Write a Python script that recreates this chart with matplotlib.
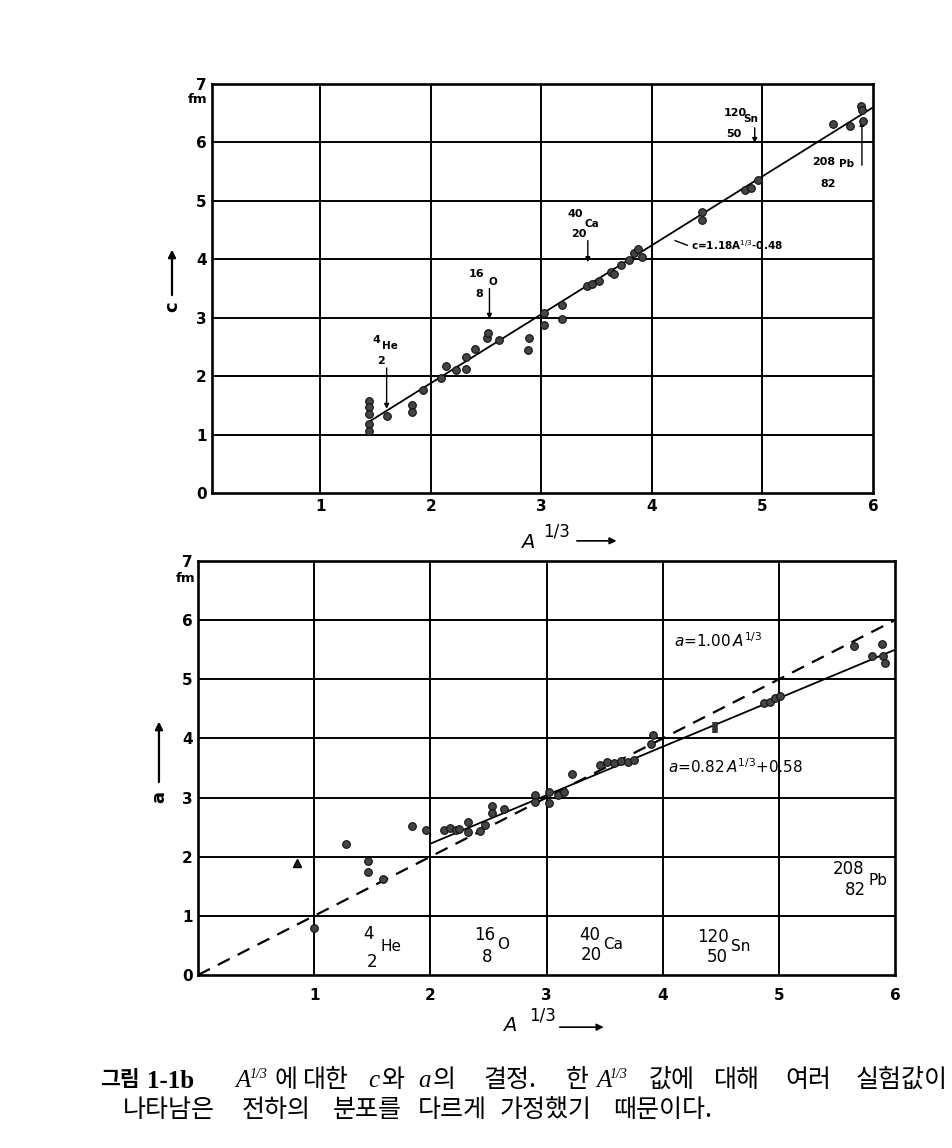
import matplotlib
matplotlib.use('Agg')
import numpy as np
import matplotlib.pyplot as plt

W, H = 952, 1148

# ------------------------------------------------------------------
# DATA (A^1/3 on x, radius in fm on y)
# upper panel: c
c_x = [1.44, 1.44, 1.44, 1.44, 1.44, 1.60, 1.83, 1.83, 1.93, 2.09, 2.14,
       2.23, 2.32, 2.32, 2.40, 2.51, 2.52, 2.62, 2.88, 2.89, 3.02, 3.02,
       3.19, 3.19, 3.41, 3.46, 3.52, 3.63, 3.66, 3.72, 3.79, 3.84, 3.87,
       3.91, 4.45, 4.45, 4.84, 4.90, 4.96, 5.64, 5.79, 5.89, 5.90, 5.91]
c_y = [1.58, 1.48, 1.36, 1.18, 1.06, 1.32, 1.50, 1.38, 1.76, 1.96, 2.17,
       2.11, 2.33, 2.13, 2.47, 2.65, 2.74, 2.62, 2.44, 2.65, 3.08, 2.88,
       3.21, 2.98, 3.55, 3.58, 3.62, 3.78, 3.75, 3.91, 3.98, 4.10, 4.18,
       4.04, 4.81, 4.67, 5.18, 5.22, 5.35, 6.31, 6.28, 6.63, 6.55, 6.37]
c_slope, c_icpt = 1.18, -0.48
c_line_x = [1.43, 6.0]

# lower panel: a
a_x = [1.00, 1.27, 1.46, 1.46, 1.59, 1.84, 1.96, 2.12, 2.17, 2.22, 2.25,
       2.32, 2.32, 2.43, 2.47, 2.53, 2.53, 2.63, 2.90, 2.90, 3.02, 3.02,
       3.10, 3.15, 3.22, 3.46, 3.52, 3.58, 3.64, 3.70, 3.75, 3.90, 3.92,
       4.87, 4.92, 4.97, 5.01, 5.65, 5.80, 5.89, 5.90, 5.91]
a_y = [0.79, 2.22, 1.92, 1.74, 1.62, 2.52, 2.45, 2.45, 2.48, 2.46, 2.47,
       2.58, 2.42, 2.43, 2.53, 2.85, 2.74, 2.80, 3.05, 2.92, 2.90, 3.10,
       3.05, 3.10, 3.40, 3.55, 3.60, 3.58, 3.62, 3.60, 3.63, 3.90, 4.05,
       4.60, 4.62, 4.68, 4.72, 5.56, 5.40, 5.60, 5.40, 5.28]
a_tri_x = [0.85]
a_tri_y = [1.89]
a_bar_x = [4.45]
a_bar_lo = [4.09]
a_bar_hi = [4.27]
a_slope, a_icpt = 0.82, 0.58
a_line_x = [2.0, 6.0]
a_dash_slope = 1.00
a_dash_x = [0.0, 6.0]

x_ticks = [1, 2, 3, 4, 5, 6]
y_ticks = [0, 1, 2, 3, 4, 5, 6, 7]

# nuclei marked in the plots
nuc_mass = ['4', '16', '40', '120', '208']
nuc_z = ['2', '8', '20', '50', '82']
nuc_sym = ['He', 'O', 'Ca', 'Sn', 'Pb']

# ------------------------------------------------------------------
fig = plt.figure(figsize=(W / 100, H / 100), dpi=100)
fig.patch.set_facecolor('white')

GRID_LW = 1.4
TICK_FONT = dict(family='DejaVu Sans', size=11, weight='bold')


def setup(ax, xlim, pad_x):
    ax.set_xlim(*xlim)
    ax.set_ylim(0, 7)
    ax.set_xticks(x_ticks)
    ax.set_yticks(y_ticks)
    ax.set_xticklabels([str(t) for t in x_ticks], fontdict=TICK_FONT)
    ax.set_yticklabels([str(t) for t in y_ticks], fontdict=TICK_FONT)
    ax.tick_params(length=0, pad=4)
    ax.tick_params(axis='x', pad=pad_x)
    for t in x_ticks[:-1]:
        ax.axvline(t, color='k', lw=GRID_LW, zorder=1)
    for t in y_ticks[1:-1]:
        ax.axhline(t, color='k', lw=GRID_LW, zorder=1)
    for s in ax.spines.values():
        s.set_linewidth(1.9)


def axlabels(ax, xA, yA, x13, y13, arr, yc, ylab, ylab_xy, yarr):
    ax.text(xA, yA, 'A', transform=ax.transAxes, fontsize=14, style='italic',
            family='DejaVu Sans', ha='center', va='center')
    ax.text(x13, y13, '1/3', transform=ax.transAxes, fontsize=12,
            family='DejaVu Sans', ha='center', va='center')
    ax.annotate('', xy=(arr[1], yc), xytext=(arr[0], yc),
                xycoords='axes fraction', annotation_clip=False,
                arrowprops=dict(arrowstyle='-|>', lw=1.2, color='k',
                                mutation_scale=10, shrinkA=0, shrinkB=0))
    ax.text(ylab_xy[0], ylab_xy[1], ylab, transform=ax.transAxes, fontsize=13,
            weight='bold', rotation=90, ha='center', va='center')
    ax.annotate('', xy=(ylab_xy[0], yarr[1]), xytext=(ylab_xy[0], yarr[0]),
                xycoords='axes fraction', annotation_clip=False,
                arrowprops=dict(arrowstyle='-|>', lw=1.6, color='k',
                                mutation_scale=11, shrinkA=0, shrinkB=0))


# ---------------- upper panel --------------------------------------
ax1 = fig.add_axes([212 / W, 1 - 493 / H, 661 / W, 409 / H])
setup(ax1, (0.02, 6.0), 4)
ax1.plot(c_x, c_y, 'o', ms=5.5, mfc='#444444', mec='#111111', mew=0.8,
         zorder=4)
cx = np.array(c_line_x)
ax1.plot(cx, c_slope * cx + c_icpt, color='k', lw=1.3, zorder=3)
ax1.text(-0.022, 0.962, 'fm', transform=ax1.transAxes, fontsize=9.5,
         weight='bold', ha='center', va='center')

# labels of the nuclei with arrows (positions in data units)
top_lab = [  # (mass xy, symbol xy, Z xy, arrow x, arrow y0, arrow y1)
    ((1.51, 2.62), (1.63, 2.51), (1.55, 2.26), 1.60, 2.14, 1.44),
    ((2.41, 3.75), (2.56, 3.61), (2.44, 3.41), 2.53, 3.50, 2.98),
    ((3.31, 4.78), (3.46, 4.61), (3.34, 4.44), 3.42, 4.32, 3.95),
    ((4.75, 6.51), (4.89, 6.40), (4.74, 6.14), 4.93, 6.25, 5.99),
    ((5.55, 5.67), (5.76, 5.63), (5.59, 5.29), 5.90, 5.61, 6.37),
]
for i, (pm, ps, pz, axx, y0, y1) in enumerate(top_lab):
    ax1.text(*pm, nuc_mass[i], fontsize=8, weight='bold', ha='center', va='center')
    ax1.text(*ps, nuc_sym[i], fontsize=7.5, weight='bold', ha='center', va='center')
    ax1.text(*pz, nuc_z[i], fontsize=8, weight='bold', ha='center', va='center')
    ax1.annotate('', xy=(axx, y1), xytext=(axx, y0),
                 arrowprops=dict(arrowstyle='-|>', lw=1.0, color='k',
                                 mutation_scale=7, shrinkA=0, shrinkB=0))

ax1.plot([4.21, 4.32], [4.32, 4.24], color='k', lw=1.0)
ax1.text(4.35, 4.24, r'c=1.18A$^{1/3}$-0.48', fontsize=7.5, weight='bold',
         ha='left', va='center')

axlabels(ax1, 0.478, -0.122, 0.522, -0.095, (0.552, 0.612), -0.117,
         'c', (-0.0605, 0.455), (0.484, 0.595))

# ---------------- lower panel --------------------------------------
ax2 = fig.add_axes([198 / W, 1 - 975 / H, 697 / W, 414 / H])
setup(ax2, (0.0, 6.0), 9)
ax2.plot(a_x, a_y, 'o', ms=5.5, mfc='#444444', mec='#111111', mew=0.8,
         zorder=4)
ax2.plot(a_tri_x, a_tri_y, '^', ms=6, mfc='#222222', mec='k', zorder=4)
ax2.vlines(a_bar_x, a_bar_lo, a_bar_hi, color='#333333', lw=4, zorder=4)
ax_ = np.array(a_line_x)
ax2.plot(ax_, a_slope * ax_ + a_icpt, color='k', lw=1.3, zorder=3)
dx = np.array(a_dash_x)
ax2.plot(dx, a_dash_slope * dx, color='k', lw=1.6, ls=(0, (6, 4)), zorder=3)
ax2.text(-0.018, 0.957, 'fm', transform=ax2.transAxes, fontsize=9.5,
         weight='bold', ha='center', va='center')

bot_lab = [  # (mass xy, symbol xy, Z xy)
    ((1.47, 0.70), (1.66, 0.48), (1.50, 0.22)),
    ((2.47, 0.68), (2.63, 0.51), (2.49, 0.31)),
    ((3.37, 0.68), (3.57, 0.51), (3.39, 0.34)),
    ((4.43, 0.65), (4.67, 0.48), (4.47, 0.31)),
    ((5.60, 1.80), (5.85, 1.60), (5.66, 1.44)),
]
for i, (pm, ps, pz) in enumerate(bot_lab):
    ax2.text(*pm, nuc_mass[i], fontsize=12, ha='center', va='center')
    ax2.text(*ps, nuc_sym[i], fontsize=11, ha='center', va='center')
    ax2.text(*pz, nuc_z[i], fontsize=12, ha='center', va='center')

ax2.text(4.10, 5.66, r'$a$=1.00$\,A^{1/3}$', fontsize=11, ha='left', va='center')
ax2.text(4.05, 3.52, r'$a$=0.82$\,A^{1/3}$+0.58', fontsize=11, ha='left',
         va='center')

axlabels(ax2, 0.447, -0.121, 0.494, -0.097, (0.519, 0.582), -0.126,
         'a', (-0.056, 0.43), (0.466, 0.612))

# ---------------- caption ------------------------------------------
KOR = 'Noto Sans CJK KR'
SER = 'Liberation Serif'


def cap(x, y, s, fam=KOR, size=18, **kw):
    fig.text(x / W, 1 - y / H, s, family=fam, fontsize=size, ha='left',
             va='center', **kw)


y1, y2 = 1080, 1110
cap(100, y1, '그림', size=15.5, weight='bold')
cap(147, y1 + 1, '1-1b', fam=SER, size=18, weight='bold')
for xa in (235, 596):
    cap(xa, y1 + 1, 'A', fam=SER, size=18, style='italic')
    cap(xa + 14, y1 - 6, '1/3', fam=SER, size=10, style='italic')
for xw, w in [(275, '에'), (303, '대한'), (381, '와'), (433, '의'),
              (483, '결정.'), (566, '한'), (649, '값에'), (714, '대해'),
              (785, '여러'), (856, '실험값이')]:
    cap(xw, y1, w, weight='medium')
cap(368, y1 + 1, 'c', fam=SER, size=18, style='italic')
cap(418, y1 + 1, 'a', fam=SER, size=18, style='italic')
for xw, w in [(123, '나타남은'), (242, '전하의'), (333, '분포를'),
              (418, '다르게'), (500, '가정했기'), (613, '때문이다.')]:
    cap(xw, y2, w, weight='medium')

fig.savefig('out.png', dpi=100, facecolor='white')
